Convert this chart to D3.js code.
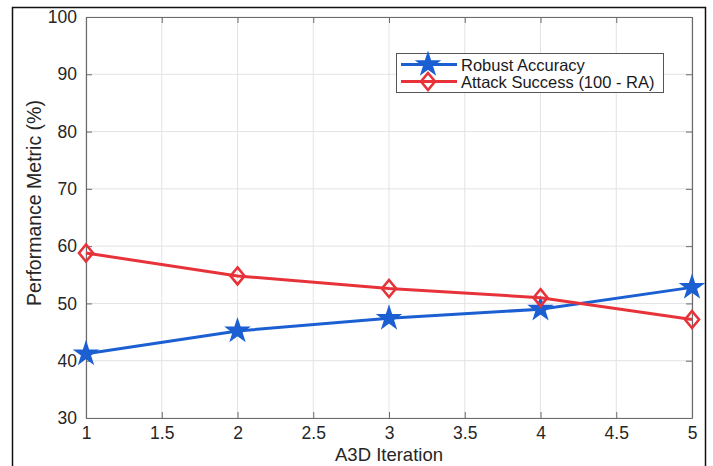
<!DOCTYPE html>
<html>
<head>
<meta charset="utf-8">
<script src="https://cdn.jsdelivr.net/npm/d3@7"></script>
<style>
  html, body { margin: 0; padding: 0; background: #fff; }
  svg { display: block; font-family: "Liberation Sans", Arial, Helvetica, sans-serif; }
</style>
</head>
<body>
<svg id="chart" width="713" height="466"></svg>
<script>
// A3D iterations and the two tracked metrics
const iterations = [1, 2, 3, 4, 5];
const robustAccuracy = [41.2, 45.2, 47.4, 49.0, 52.8];
const attackSuccess = [58.8, 54.8, 52.6, 51.0, 47.2];
const xTicks = [1, 1.5, 2, 2.5, 3, 3.5, 4, 4.5, 5];
const yTicks = [30, 40, 50, 60, 70, 80, 90, 100];
const seriesNames = ["Robust Accuracy", "Attack Success (100 - RA)"];

const svg = d3.select("#chart");
const W = 713, H = 466;
const plot = { left: 86, top: 17, right: 692, bottom: 418 };

const x = d3.scaleLinear().domain([1, 5]).range([plot.left, plot.right]);
const y = d3.scaleLinear().domain([30, 100]).range([plot.bottom, plot.top]);

const blue = "#1b5fd2";
const red = "#e8323a";

// outer figure frame
svg.append("path")
  .attr("d", `M12.5,${H} V7.5 H705.5 V${H}`)
  .attr("fill", "none").attr("stroke", "#111").attr("stroke-width", 1.5);

// grid
const grid = svg.append("g");
grid.selectAll(".gx").data(xTicks).join("line")
  .attr("x1", d => x(d)).attr("x2", d => x(d))
  .attr("y1", plot.top).attr("y2", plot.bottom)
  .attr("stroke", "#e3e3e3").attr("stroke-width", 1);
grid.selectAll(".gy").data(yTicks).join("line")
  .attr("y1", d => y(d)).attr("y2", d => y(d))
  .attr("x1", plot.left).attr("x2", plot.right)
  .attr("stroke", "#e3e3e3").attr("stroke-width", 1);

// axes with inward ticks
const axisColor = "#6b6b6b";
const xAxis = svg.append("g").attr("transform", `translate(0,${plot.bottom})`)
  .call(d3.axisBottom(x).tickValues(xTicks).tickSizeInner(-6).tickSizeOuter(0).tickPadding(9)
    .tickFormat(d3.format("")));
const xAxisTop = svg.append("g").attr("transform", `translate(0,${plot.top})`)
  .call(d3.axisTop(x).tickValues(xTicks).tickSizeInner(-6).tickSizeOuter(0).tickFormat(""));
const yAxis = svg.append("g").attr("transform", `translate(${plot.left},0)`)
  .call(d3.axisLeft(y).tickValues(yTicks).tickSizeInner(-6).tickSizeOuter(0).tickPadding(9));
const yAxisRight = svg.append("g").attr("transform", `translate(${plot.right},0)`)
  .call(d3.axisRight(y).tickValues(yTicks).tickSizeInner(-6).tickSizeOuter(0).tickFormat(""));

[xAxis, xAxisTop, yAxis, yAxisRight].forEach(g => {
  g.select(".domain").attr("stroke", axisColor).attr("stroke-width", 1.2);
  g.selectAll(".tick line").attr("stroke", axisColor);
  g.selectAll("text").attr("fill", "#262626").attr("font-size", 17.5)
    .attr("font-family", "Liberation Sans, Arial, sans-serif");
});

// axis titles
svg.append("text").attr("x", (plot.left + plot.right) / 2).attr("y", 461)
  .attr("text-anchor", "middle").attr("font-size", 18.5).attr("fill", "#262626")
  .text("A3D Iteration");
svg.append("text")
  .attr("transform", `translate(41,203) rotate(-90)`)
  .attr("text-anchor", "middle").attr("font-size", 19.5).attr("fill", "#262626")
  .text("Performance Metric (%)");

// series
const line = d3.line().x(d => x(d[0])).y(d => y(d[1]));
const raPts = iterations.map((it, i) => [it, robustAccuracy[i]]);
const asPts = iterations.map((it, i) => [it, attackSuccess[i]]);

const starPath = d3.symbol().type(d3.symbolStar).size(150)();
const diamondPath = "M0,-8.5 L7,0 L0,8.5 L-7,0 Z";

function drawStar(g, cx, cy) {
  g.append("path").attr("d", starPath).attr("transform", `translate(${cx},${cy})`)
    .attr("fill", blue).attr("stroke", blue).attr("stroke-width", 1.5).attr("stroke-linejoin", "miter");
}
function drawDiamond(g, cx, cy) {
  g.append("path").attr("d", diamondPath).attr("transform", `translate(${cx},${cy})`)
    .attr("fill", "none").attr("stroke", red).attr("stroke-width", 2.6);
}

const marks = svg.append("g");
marks.append("path").datum(raPts).attr("d", line)
  .attr("fill", "none").attr("stroke", blue).attr("stroke-width", 3);
raPts.forEach(p => drawStar(marks, x(p[0]), y(p[1])));
marks.append("path").datum(asPts).attr("d", line)
  .attr("fill", "none").attr("stroke", red).attr("stroke-width", 3);
asPts.forEach(p => drawDiamond(marks, x(p[0]), y(p[1])));

// legend
const lg = svg.append("g").attr("transform", "translate(396,53)");
lg.append("rect").attr("x", 0.5).attr("y", 0.5).attr("width", 267).attr("height", 39)
  .attr("fill", "#fff").attr("stroke", "#555").attr("stroke-width", 1);
const rows = [
  { name: seriesNames[0], color: blue, draw: drawStar, cy: 11.5 },
  { name: seriesNames[1], color: red, draw: drawDiamond, cy: 28.5 }
];
rows.forEach(r => {
  lg.append("line").attr("x1", 5).attr("x2", 61).attr("y1", r.cy).attr("y2", r.cy)
    .attr("stroke", r.color).attr("stroke-width", 3);
  r.draw(lg, 32, r.cy);
  lg.append("text").attr("x", 65).attr("y", r.cy + 6).attr("font-size", 16.5)
    .attr("fill", "#1a1a1a").text(r.name);
});
</script>
</body>
</html>
